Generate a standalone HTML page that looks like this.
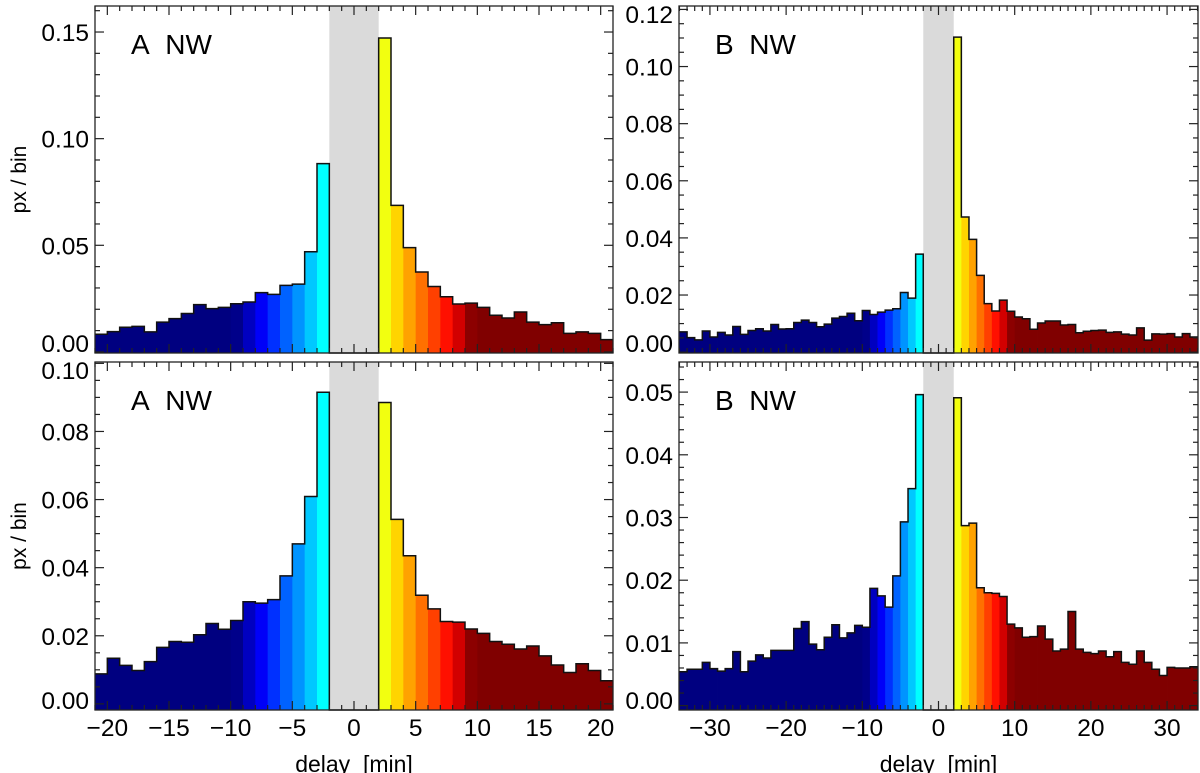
<!DOCTYPE html>
<html><head><meta charset="utf-8"><style>
html,body{margin:0;padding:0;background:#fff;}
svg{display:block;font-family:"Liberation Sans",sans-serif;}
</style></head><body>
<svg id="chart" width="1200" height="773" viewBox="0 0 1200 773"></svg>
<script>
// Panel data: bin values (px / bin), bins of width 1 minute
const aTopNeg = [0.0083,0.0095,0.0116,0.012,0.0094,0.014,0.0156,0.018,0.0222,0.0203,0.0209,0.0226,0.0234,0.0278,0.027,0.0312,0.0318,0.047,0.0883];
const aTopPos = [0.1472,0.0687,0.0489,0.0375,0.0307,0.0259,0.0225,0.0229,0.0209,0.0172,0.0159,0.0187,0.014,0.0128,0.0137,0.0087,0.0094,0.0087,0.0058];
const aBotNeg = [0.0088,0.0134,0.0113,0.0098,0.0124,0.0166,0.0183,0.0181,0.0203,0.0236,0.0219,0.0245,0.030,0.0296,0.0306,0.0376,0.047,0.0609,0.0915];
const aBotPos = [0.0885,0.0542,0.0435,0.0319,0.0279,0.0242,0.024,0.022,0.0207,0.0183,0.0175,0.0161,0.017,0.0141,0.0114,0.0092,0.0118,0.0098,0.0068];
const bTopNeg = [0.0071,0.0051,0.0043,0.0074,0.0053,0.0069,0.006,0.009,0.0062,0.0076,0.0082,0.0074,0.0097,0.0081,0.0082,0.0104,0.0112,0.0104,0.0089,0.0098,0.0119,0.0125,0.0136,0.011,0.0146,0.0132,0.014,0.0147,0.0152,0.0209,0.0189,0.0343];
const bTopPos = [0.1103,0.0473,0.0395,0.0269,0.017,0.0144,0.0182,0.0143,0.0123,0.0117,0.008,0.0102,0.0109,0.0109,0.0095,0.0097,0.0068,0.0073,0.0076,0.0077,0.0069,0.0071,0.0063,0.006,0.0085,0.0042,0.0064,0.0063,0.0065,0.0053,0.0065,0.0053];
const bBotNeg = [0.0054,0.0058,0.0058,0.0069,0.0059,0.0055,0.0059,0.0086,0.0054,0.0071,0.0081,0.0076,0.0088,0.0088,0.0088,0.0123,0.0134,0.0098,0.0089,0.0109,0.0129,0.0108,0.0116,0.0128,0.0125,0.0187,0.0175,0.0157,0.0207,0.0293,0.0346,0.0496];
const bBotPos = [0.0491,0.0287,0.0291,0.0188,0.018,0.0179,0.0174,0.013,0.0124,0.0109,0.011,0.0127,0.0106,0.0087,0.009,0.015,0.009,0.0085,0.0083,0.0087,0.0078,0.0086,0.0069,0.0066,0.0087,0.0069,0.0058,0.0048,0.0061,0.006,0.006,0.0062];
const xTicksA = [-20,-15,-10,-5,0,5,10,15,20];
const xTicksB = [-30,-20,-10,0,10,20,30];
const yTicksATop = [0,0.05,0.10,0.15];
const yTicksBTop = [0,0.02,0.04,0.06,0.08,0.10,0.12];
const yTicksABot = [0,0.02,0.04,0.06,0.08,0.10];
const yTicksBBot = [0,0.01,0.02,0.03,0.04,0.05];

const NS="http://www.w3.org/2000/svg";
const svg=document.getElementById('chart');
function mk(tag,attrs,parent){const e=document.createElementNS(NS,tag);for(const k in attrs)e.setAttribute(k,attrs[k]);(parent||svg).appendChild(e);return e;}
function colorFor(c){
  const neg={'-9.5':'#00008a','-8.5':'#0000c0','-7.5':'#0000f8','-6.5':'#0030ff','-5.5':'#0062ff','-4.5':'#0094ff','-3.5':'#00c8ff','-2.5':'#00ffff'};
  const pos={'2.5':'#f2ff10','3.5':'#ffd400','4.5':'#ffa200','5.5':'#ff7000','6.5':'#ff4000','7.5':'#ff1000','8.5':'#d20000','9.5':'#8c0000'};
  const k=String(c);
  if(c<-10)return '#000080'; if(c>10)return '#800000';
  return neg[k]||pos[k]||'#800000';
}
function panel(o){
  const g=mk('g',{});
  
  
  const X=v=>o.x0+(v-o.xmin)/(o.xmax-o.xmin)*(o.x1-o.x0);
  const Y=v=>o.yb-(v-o.ymin)/(o.ymax-o.ymin)*(o.yb-o.yt);
  const gap=mk('rect',{x:X(-2),y:o.yt,width:X(2)-X(-2),height:o.yb-o.yt,fill:'#dadada'},g);
  
  
  const bins=[];
  o.neg.forEach((v,i)=>{bins.push({l:-2-o.neg.length+i,v});});
  o.pos.forEach((v,i)=>{bins.push({l:2+i,v});});
  bins.forEach(b=>{
    const r=mk('rect',{x:X(b.l),y:Y(b.v),width:X(b.l+1)-X(b.l)+0.4,height:o.yb-Y(b.v),fill:colorFor(b.l+0.5)},g);
    
    
  });
  let d='M'+X(-2-o.neg.length)+','+Y(o.neg[0]);
  o.neg.forEach((v,i)=>{const l=-2-o.neg.length+i;d+=' L'+X(l)+','+Y(v)+' L'+X(l+1)+','+Y(v);});
  d+=' L'+X(-2)+','+o.yb+' L'+X(2)+','+o.yb;
  o.pos.forEach((v,i)=>{const l=2+i;d+=' L'+X(l)+','+Y(v)+' L'+X(l+1)+','+Y(v);});
  const ol=mk('path',{d:d,fill:'none',stroke:'#111',"stroke-width":1.5},g);
  
  
  const fr=mk('rect',{x:o.x0,y:o.yt,width:o.x1-o.x0,height:o.yb-o.yt,fill:'none',stroke:'#222',"stroke-width":1.3},g);
  
  
  for(let v=Math.ceil(o.xmin);v<=o.xmax;v++){
    const maj=o.xt.includes(v), L=maj?9:5, x=X(v);
    mk('line',{x1:x,x2:x,y1:o.yb,y2:o.yb-L,stroke:'#222',"stroke-width":1.2},g);
    mk('line',{x1:x,x2:x,y1:o.yt,y2:o.yt+L,stroke:'#222',"stroke-width":1.2},g);
  }
  const nMin=Math.round((o.yt2[1]-o.yt2[0])/o.ym);
  for(let v=0;v<=o.ymax+1e-9;v+=o.ym){
    const vv=Math.round(v/o.ym);const maj=vv%nMin===0;const L=maj?9:5;const y=Y(v);
    if(y<o.yt-0.5)continue;
    mk('line',{x1:o.x0,x2:o.x0+L,y1:y,y2:y,stroke:'#222',"stroke-width":1.2},g);
    mk('line',{x1:o.x1,x2:o.x1-L,y1:y,y2:y,stroke:'#222',"stroke-width":1.2},g);
  }
  o.yt2.forEach(v=>{
    let y=Y(v)+9; if(y>o.yb-1)y=o.yb-1; if(y<o.yt+17)y=o.yt+17;
    const t=mk('text',{x:o.x0-6,y:y,"text-anchor":"end","font-size":24.5,fill:'#000'},g);
    t.textContent=v.toFixed(2);
    
    
  });
  if(o.showX){
    o.xt.forEach(v=>{
      const t=mk('text',{x:X(v),y:o.yb+26,"text-anchor":"middle","font-size":24.5,fill:'#000'},g);
      t.textContent=(v<0?'\u2212':'')+Math.abs(v);
      
      
    });
    const xt=mk('text',{x:(o.x0+o.x1)/2,y:772,"text-anchor":"middle","font-size":23,fill:'#000'},g);
    xt.textContent='delay\u00a0\u00a0[min]';
    
    
  }
  if(o.ylab){
    const cy=(o.yt+o.yb)/2;
    const t=mk('text',{x:26,y:cy,"text-anchor":"middle","font-size":21,fill:'#000',transform:'rotate(-90 26 '+cy+')'},g);
    t.textContent='px / bin';
    
    
  }
  const pl=mk('text',{x:o.x0+36,y:o.yt+48,"font-size":28,fill:'#000'},g);
  pl.textContent=o.label;
  
  
}
panel({name:'panel-a-top',x0:95,x1:613,xmin:-21,xmax:21,yt:6,yb:353,ymin:-0.0005,ymax:0.1622,neg:aTopNeg,pos:aTopPos,xt:xTicksA,yt2:yTicksATop,ym:0.01,ylab:true,showX:false,label:'A\u00a0\u00a0NW'});
panel({name:'panel-b-top',x0:679,x1:1198,xmin:-34.06,xmax:34.06,yt:6,yb:353,ymin:-0.0003,ymax:0.1212,neg:bTopNeg,pos:bTopPos,xt:xTicksB,yt2:yTicksBTop,ym:0.005,ylab:false,showX:false,label:'B\u00a0\u00a0NW'});
panel({name:'panel-a-bottom',x0:95,x1:613,xmin:-21,xmax:21,yt:362,yb:710,ymin:-0.0018,ymax:0.1004,neg:aBotNeg,pos:aBotPos,xt:xTicksA,yt2:yTicksABot,ym:0.005,ylab:true,showX:true,label:'A\u00a0\u00a0NW'});
panel({name:'panel-b-bottom',x0:679,x1:1198,xmin:-34.06,xmax:34.06,yt:362,yb:710,ymin:-0.0007,ymax:0.0548,neg:bBotNeg,pos:bBotPos,xt:xTicksB,yt2:yTicksBBot,ym:0.002,ylab:false,showX:true,label:'B\u00a0\u00a0NW'});
</script>
</body></html>
